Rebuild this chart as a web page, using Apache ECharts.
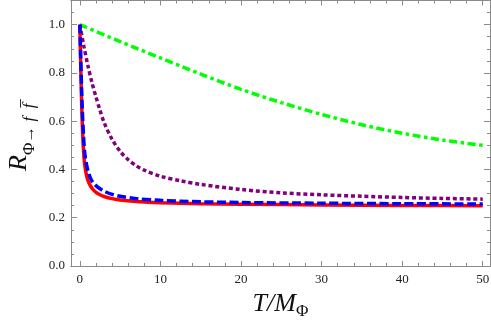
<!DOCTYPE html>
<html><head><meta charset="utf-8">
<script src="https://cdn.jsdelivr.net/npm/echarts@6/dist/echarts.min.js"></script>
<style>html,body{margin:0;padding:0;background:#fff}#c{width:491px;height:327px}</style>
</head><body><div id="c"></div>
<script>
// ---- data ----
const redX   = [0, 0.1, 0.2, 0.3, 0.45, 0.6, 0.8, 1.0, 1.3, 1.6, 2, 2.5, 3, 4, 5, 7, 10, 15, 20, 30, 40, 50];
const redY   = [1.0, 0.84, 0.70, 0.59, 0.48, 0.42, 0.38, 0.355, 0.333, 0.318, 0.305, 0.295, 0.288, 0.279, 0.273, 0.267, 0.262, 0.258, 0.256, 0.253, 0.251, 0.250];
const blueX  = [0, 0.1, 0.2, 0.3, 0.45, 0.6, 0.8, 1.0, 1.3, 1.6, 2, 2.5, 3, 4, 5, 7, 10, 15, 20, 30, 40, 50];
const blueY  = [1.0, 0.87, 0.75, 0.65, 0.54, 0.47, 0.425, 0.395, 0.365, 0.347, 0.333, 0.32, 0.31, 0.297, 0.289, 0.279, 0.272, 0.266, 0.263, 0.260, 0.258, 0.257];
const purpleX = [0, 0.5, 1, 1.5, 2, 2.5, 3, 4, 5, 6, 7, 8, 10, 12.5, 15, 20, 25, 30, 35, 40, 45, 50];
const purpleY = [1.0, 0.91, 0.83, 0.76, 0.70, 0.645, 0.595, 0.525, 0.475, 0.44, 0.415, 0.397, 0.372, 0.353, 0.338, 0.317, 0.303, 0.295, 0.289, 0.284, 0.280, 0.277];
const greenX = [0, 5, 10, 15, 20, 25, 30, 35, 40, 45, 50];
const greenY = [1.0, 0.93, 0.862, 0.795, 0.732, 0.677, 0.628, 0.585, 0.55, 0.522, 0.50];

const xMajorTicks = [0, 10, 20, 30, 40, 50];
const xMinorTicks = [2, 4, 6, 8, 12, 14, 16, 18, 22, 24, 26, 28, 32, 34, 36, 38, 42, 44, 46, 48];
const yMajorTicks = [0, 0.2, 0.4, 0.6, 0.8, 1.0];
const yMinorTicks = [0.05, 0.1, 0.15, 0.25, 0.3, 0.35, 0.45, 0.5, 0.55, 0.65, 0.7, 0.75, 0.85, 0.9, 0.95, 1.05];

const X_MIN = -1.1, X_MAX = 50.9, Y_MIN = 0, Y_MAX = 1.1;
const FRAME = '#8a8a8a';
const SERIF = 'Liberation Serif, DejaVu Serif, serif';

function zip(xs, ys) { return xs.map((x, i) => [x, ys[i]]); }

function xAx(pos, ticks, len, labels, extra) {
  return Object.assign({
    type: 'value', min: X_MIN, max: X_MAX, position: pos,
    axisLine: { show: true, onZero: false, lineStyle: { color: FRAME, width: 1 } },
    axisTick: { show: true, inside: true, length: len, customValues: ticks, lineStyle: { color: FRAME, width: 1 } },
    axisLabel: labels ? { show: true, customValues: ticks, color: '#222', fontFamily: SERIF, fontSize: 13, margin: 7,
      formatter: v => String(v) } : { show: false },
    splitLine: { show: false }, minorTick: { show: false }
  }, extra || {});
}
function yAx(pos, ticks, len, labels, extra) {
  return Object.assign({
    type: 'value', min: Y_MIN, max: Y_MAX, position: pos,
    axisLine: { show: true, onZero: false, lineStyle: { color: FRAME, width: 1 } },
    axisTick: { show: true, inside: true, length: len, customValues: ticks, lineStyle: { color: FRAME, width: 1 } },
    axisLabel: labels ? { show: true, customValues: ticks, color: '#222', fontFamily: SERIF, fontSize: 13, margin: 6,
      formatter: v => v.toFixed(1) } : { show: false },
    splitLine: { show: false }, minorTick: { show: false }
  }, extra || {});
}

const chart = echarts.init(document.getElementById('c'), null, { renderer: 'canvas' });
chart.setOption({
  animation: false,
  backgroundColor: '#fff',
  grid: { left: 71, right: 1, top: 0.5, bottom: 61, containLabel: false, outerBoundsMode: 'none' },
  xAxis: [
    xAx('bottom', xMajorTicks, 5, true, {
      name: '{i|T/M}{s|Φ}', nameLocation: 'middle', nameGap: 15,
      nameTextStyle: { rich: {
        i: { fontFamily: SERIF, fontStyle: 'italic', fontSize: 26, color: '#111', lineHeight: 32, verticalAlign: 'middle' },
        s: { fontFamily: SERIF, fontSize: 17, color: '#111', lineHeight: 17, verticalAlign: 'bottom' }
      } }
    }),
    xAx('bottom', xMinorTicks, 3, false),
    xAx('top', xMajorTicks, 5, false),
    xAx('top', xMinorTicks, 3, false)
  ],
  yAxis: [
    yAx('left', yMajorTicks, 6, true, {
      name: '{i|R}{s|Φ→}{si| f  f\u0305}', nameLocation: 'middle', nameRotate: 90, nameGap: 32,
      nameTextStyle: { rich: {
        i: { fontFamily: SERIF, fontStyle: 'italic', fontSize: 26, color: '#111', lineHeight: 38, verticalAlign: 'middle' },
        s: { fontFamily: SERIF, fontSize: 17, color: '#111', lineHeight: 17, verticalAlign: 'bottom' },
        si: { fontFamily: SERIF, fontStyle: 'italic', fontSize: 17, color: '#111', lineHeight: 17, verticalAlign: 'bottom', padding: [0, 8, 0, 0] }
      } }
    }),
    yAx('left', yMinorTicks, 3, false),
    yAx('right', yMajorTicks, 6, false),
    yAx('right', yMinorTicks, 3, false)
  ],
  series: [
    { type: 'line', data: zip(greenX, greenY), smooth: 0.3, showSymbol: false,
      lineStyle: { color: '#00ff00', width: 3.5, type: [8, 3.5, 3.5, 3.5] } },
    { type: 'line', data: zip(purpleX, purpleY), smooth: 0.3, showSymbol: false,
      lineStyle: { color: '#800080', width: 3.5, type: [4, 2.8] } },
    { type: 'line', data: zip(redX, redY), smooth: 0.3, showSymbol: false,
      lineStyle: { color: '#ff0000', width: 3.5, type: 'solid' } },
    { type: 'line', data: zip(blueX, blueY), smooth: 0.3, showSymbol: false,
      lineStyle: { color: '#0000ff', width: 3.5, type: [9, 3.5] } }
  ]
});
</script></body></html>
